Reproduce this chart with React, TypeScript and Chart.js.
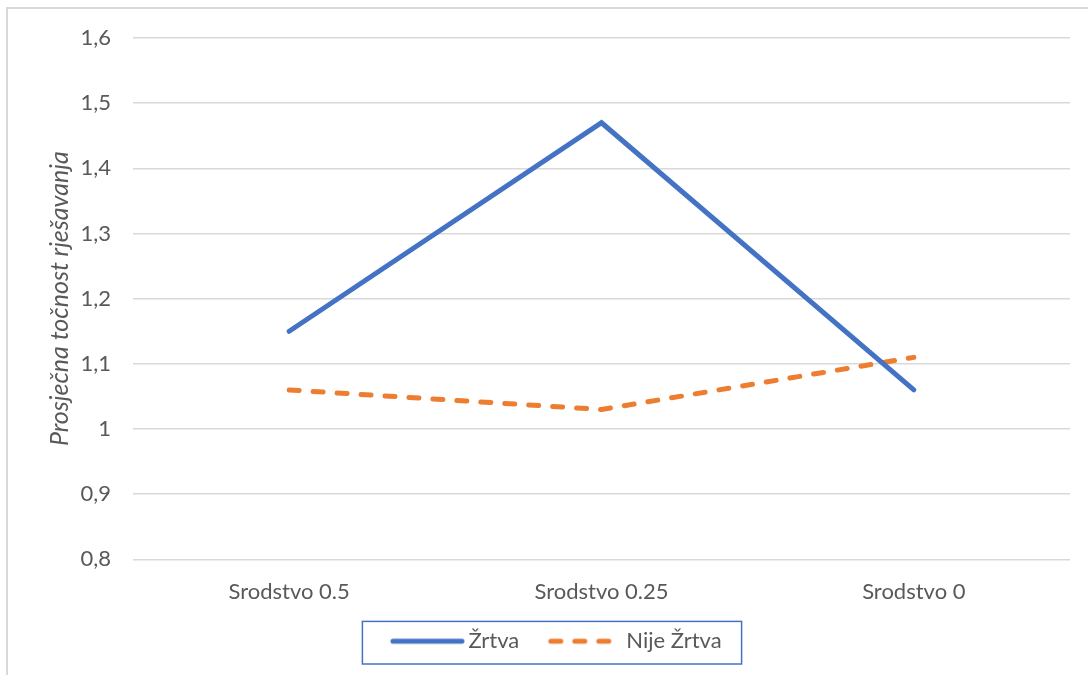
import React, { useEffect, useRef } from "react";
import { Chart, registerables } from "chart.js";

Chart.register(...registerables);

const categories = ["Srodstvo 0.5", "Srodstvo 0.25", "Srodstvo 0"];
const seriesNames = ["Žrtva", "Nije Žrtva"];
const zrtvaValues = [1.15, 1.47, 1.06];
const nijeZrtvaValues = [1.06, 1.03, 1.11];
const yTickValues = [0.8, 0.9, 1.0, 1.1, 1.2, 1.3, 1.4, 1.5, 1.6];
const yTickLabels = ["0,8", "0,9", "1", "1,1", "1,2", "1,3", "1,4", "1,5", "1,6"];
const yTitle = "Prosječna točnost rješavanja";

const BLUE = "#4472C4";
const ORANGE = "#ED7D31";
const TEXT = "#595959";
const GRID = "#D9D9D9";
const FONT = "Lato, 'Open Sans', sans-serif";
const LEGEND_PAD = 7;
const LEGEND_EXTRA = 1.8;

function makeLegendImage(color: string, dash: number[], x0: number, x1: number): HTMLCanvasElement {
  const c = document.createElement("canvas");
  c.width = 110;
  c.height = 8;
  const ctx = c.getContext("2d")!;
  ctx.strokeStyle = color;
  ctx.lineWidth = 5;
  ctx.lineCap = "round";
  ctx.setLineDash(dash);
  ctx.beginPath();
  ctx.moveTo(x0, 4);
  ctx.lineTo(x1, 4);
  ctx.stroke();
  return c;
}

const legendBorderPlugin = {
  id: "legendBorder",
  afterDraw(chart: any) {
    const legend = chart.legend;
    if (!legend || !legend.legendHitBoxes || !legend.legendHitBoxes.length) return;
    const boxes = legend.legendHitBoxes;
    const first = boxes[0];
    const last = boxes[boxes.length - 1];
    const left = first.left - 6;
    const right = last.left + last.width + 20;
    const top = legend.top - LEGEND_EXTRA;
    const bottom = legend.top + legend.height + LEGEND_EXTRA;
    const ctx = chart.ctx;
    ctx.save();
    ctx.strokeStyle = BLUE;
    ctx.lineWidth = 1.5;
    ctx.strokeRect(left, top, right - left, bottom - top);
    ctx.restore();
  },
};

export default function App() {
  const canvasRef = useRef<HTMLCanvasElement | null>(null);

  useEffect(() => {
    document.body.style.margin = "0";
    document.body.style.overflow = "hidden";
    const canvas = canvasRef.current;
    if (!canvas) return;
    const imgs = [
      makeLegendImage(BLUE, [], 35, 104),
      makeLegendImage(ORANGE, [10, 14], 35, 93),
    ];
    const chart = new Chart(canvas, {
      type: "line",
      data: {
        labels: categories,
        datasets: [
          {
            label: seriesNames[0],
            data: zrtvaValues,
            borderColor: BLUE,
            backgroundColor: BLUE,
            borderWidth: 5,
            pointRadius: 0,
            pointHoverRadius: 0,
            borderCapStyle: "round",
            borderJoinStyle: "miter",
            tension: 0,
            fill: false,
          },
          {
            label: seriesNames[1],
            data: nijeZrtvaValues,
            borderColor: ORANGE,
            backgroundColor: ORANGE,
            borderWidth: 5,
            borderDash: [10, 14],
            pointRadius: 0,
            pointHoverRadius: 0,
            borderCapStyle: "round",
            borderJoinStyle: "round",
            tension: 0,
            fill: false,
          },
        ],
      },
      options: {
        animation: false,
        responsive: false,
        maintainAspectRatio: false,
        layout: { padding: { left: 20, right: 18, top: 38, bottom: 11 + LEGEND_EXTRA } },
        plugins: {
          tooltip: { enabled: false },
          legend: {
            display: true,
            position: "bottom",
            labels: {
              usePointStyle: true,
              pointStyleWidth: 89,
              padding: LEGEND_PAD,
              color: TEXT,
              font: { family: FONT, size: 22 },
              generateLabels: () =>
                seriesNames.map((name, i) => ({
                  text: name,
                  pointStyle: imgs[i],
                  fillStyle: "transparent",
                  strokeStyle: "transparent",
                  lineWidth: 0,
                  fontColor: TEXT,
                  hidden: false,
                  datasetIndex: i,
                })),
            },
          },
        },
        scales: {
          x: {
            offset: true,
            grid: { display: false, drawTicks: false },
            border: { display: false },
            ticks: {
              color: TEXT,
              font: { family: FONT, size: 22 },
              padding: 19,
              maxRotation: 0,
            },
            afterFit: (scale: any) => {
              scale.height = 62 + LEGEND_EXTRA;
            },
          },
          y: {
            min: 0.8,
            max: 1.6,
            afterBuildTicks: (scale: any) => {
              scale.ticks = yTickValues.map((v) => ({ value: v }));
            },
            grid: { color: GRID, lineWidth: 1.5, drawTicks: false },
            border: { display: false },
            ticks: {
              color: TEXT,
              font: { family: FONT, size: 22 },
              padding: 22,
              callback: (_v: any, i: number) => yTickLabels[i],
            },
            title: {
              display: true,
              text: yTitle,
              color: TEXT,
              font: { family: FONT, size: 25, style: "italic" },
              padding: { top: 25, bottom: 0 },
            },
            afterFit: (scale: any) => {
              scale.width = 113;
            },
          },
        },
      },
      plugins: [legendBorderPlugin],
    });
    return () => chart.destroy();
  }, []);

  return (
    <div style={{ position: "relative", width: 1088, height: 675, overflow: "hidden", background: "#fff" }}>
      <div
        style={{
          position: "absolute",
          left: 6,
          top: 7,
          width: 1120,
          height: 720,
          border: "2px solid #D9D9D9",
          boxSizing: "border-box",
        }}
      />
      <canvas ref={canvasRef} width={1088} height={675} style={{ position: "absolute", left: 0, top: 0 }} />
    </div>
  );
}
